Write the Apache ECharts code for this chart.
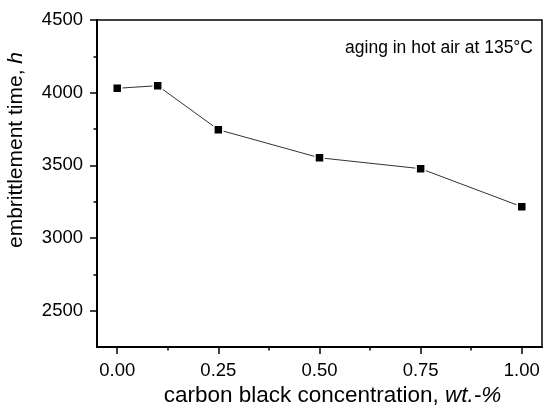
<!DOCTYPE html>
<html>
<head>
<meta charset="utf-8">
<script src="https://cdn.jsdelivr.net/npm/echarts@6/dist/echarts.min.js"></script>
<style>
html,body{margin:0;padding:0;background:#fff;}
#c{width:544px;height:405px;}
</style>
</head>
<body>
<div id="c"></div>
<script>
// ---- data ----
var concentration = [0.00, 0.10, 0.25, 0.50, 0.75, 1.00];
var embrittlementTime = [4030, 4048, 3745, 3552, 3477, 3215];
var xTickLabels = ['0.00', '0.25', '0.50', '0.75', '1.00'];
var yTickLabels = ['2500', '3000', '3500', '4000', '4500'];
var annotation = 'aging in hot air at 135°C';

// ---- layout ----
var FONT = '"Liberation Sans", Arial, sans-serif';
var xMin = -0.05, xMax = 1.05, yMin = 2250, yMax = 4500;
var gL = 97, gT = 20, gW = 445, gH = 327;
var xTickMin = parseFloat(xTickLabels[0]), xTickMax = parseFloat(xTickLabels[xTickLabels.length - 1]);
var yTickMin = parseFloat(yTickLabels[0]), yTickMax = parseFloat(yTickLabels[yTickLabels.length - 1]);
var xMajor = (xTickMax - xTickMin) / (xTickLabels.length - 1);
var yMajor = (yTickMax - yTickMin) / (yTickLabels.length - 1);
// grid for x ticks spans exactly xTickMin..xTickMax
var gxL = gL + (xTickMin - xMin) / (xMax - xMin) * gW;
var gxW = (xTickMax - xTickMin) / (xMax - xMin) * gW;
// grid for y ticks spans exactly yTickMin..yTickMax (top aligned)
var gyT = gT + (yMax - yTickMax) / (yMax - yMin) * gH;
var gyH = (yTickMax - yTickMin) / (yMax - yMin) * gH;

var data = concentration.map(function (x, i) { return [x, embrittlementTime[i]]; });

var hiddenAxis = function (grid, min, max) {
  return { type: 'value', gridIndex: grid, min: min, max: max, show: false };
};

var chart = echarts.init(document.getElementById('c'), null, { renderer: 'canvas' });
chart.setOption({
  animation: false,
  backgroundColor: '#fff',
  textStyle: { fontFamily: FONT },
  title: {
    text: annotation,
    right: 6, top: 34,
    textStyle: { fontFamily: FONT, fontSize: 17.5, fontWeight: 'normal', color: '#000' }
  },
  grid: [
    { left: gL, top: gT, width: gW, height: gH, show: true, borderColor: '#000', borderWidth: 1.5,
      backgroundColor: 'transparent', containLabel: false, outerBoundsMode: 'none' },
    { left: gL, top: gyT, width: gW, height: gyH, containLabel: false, outerBoundsMode: 'none' },
    { left: gxL, top: gT, width: gxW, height: gH, containLabel: false, outerBoundsMode: 'none' }
  ],
  xAxis: [
    {
      type: 'value', gridIndex: 0, min: xMin, max: xMax, position: 'bottom',
      axisLine: { show: true, onZero: false, lineStyle: { color: '#000', width: 2 } },
      axisTick: { show: false }, axisLabel: { show: false }, splitLine: { show: false },
      name: 'carbon black concentration, {i|wt.-%}',
      nameLocation: 'middle', nameGap: 37,
      nameTextStyle: {
        fontFamily: FONT, fontSize: 22.5, color: '#000', padding: [0, 0, 0, 26],
        rich: { i: { fontFamily: FONT, fontSize: 22.5, fontStyle: 'italic', color: '#000' } }
      }
    },
    hiddenAxis(1, xTickMin, xTickMax),
    {
      type: 'value', gridIndex: 2, min: xTickMin, max: xTickMax, interval: xMajor, position: 'bottom',
      axisLine: { show: false, onZero: false },
      axisTick: { show: true, length: 7, lineStyle: { color: '#000', width: 1.5 } },
      axisLabel: {
        show: true, margin: 14, fontFamily: FONT, fontSize: 18.5, color: '#000',
        formatter: function (v) { return v.toFixed(2); }
      },
      splitLine: { show: false }
    },
    {
      type: 'value', gridIndex: 2, min: xTickMin, max: xTickMax, interval: xMajor / 2, position: 'bottom',
      axisLine: { show: false, onZero: false },
      axisTick: { show: true, length: 3.5, lineStyle: { color: '#000', width: 1.5 } },
      axisLabel: { show: false }, splitLine: { show: false }
    }
  ],
  yAxis: [
    {
      type: 'value', gridIndex: 0, min: yMin, max: yMax, position: 'left',
      axisLine: { show: true, onZero: false, lineStyle: { color: '#000', width: 2 } },
      axisTick: { show: false }, axisLabel: { show: false }, splitLine: { show: false },
      name: 'embrittlement time, {i|h}',
      nameLocation: 'middle', nameRotate: 90, nameGap: 70,
      nameTextStyle: {
        fontFamily: FONT, fontSize: 21, color: '#000', padding: [0, 0, 0, 67],
        rich: { i: { fontFamily: FONT, fontSize: 21, fontStyle: 'italic', color: '#000' } }
      }
    },
    {
      type: 'value', gridIndex: 1, min: yTickMin, max: yTickMax, interval: yMajor, position: 'left',
      axisLine: { show: false, onZero: false },
      axisTick: { show: true, length: 7, lineStyle: { color: '#000', width: 1.5 } },
      axisLabel: {
        show: true, margin: 14, fontFamily: FONT, fontSize: 18.5, color: '#000',
        formatter: function (v) { return String(v); }
      },
      splitLine: { show: false }
    },
    {
      type: 'value', gridIndex: 1, min: yTickMin, max: yTickMax, interval: yMajor / 2, position: 'left',
      axisLine: { show: false, onZero: false },
      axisTick: { show: true, length: 3.5, lineStyle: { color: '#000', width: 1.5 } },
      axisLabel: { show: false }, splitLine: { show: false }
    },
    hiddenAxis(2, yTickMin, yTickMax)
  ],
  series: [{
    type: 'line',
    xAxisIndex: 0, yAxisIndex: 0,
    data: data,
    symbol: 'rect', symbolSize: 9,
    itemStyle: { color: '#000', borderColor: '#fff', borderWidth: 1.5 },
    lineStyle: { color: '#333', width: 1 },
    emphasis: { disabled: true },
    z: 5
  }]
});
</script>
</body>
</html>
